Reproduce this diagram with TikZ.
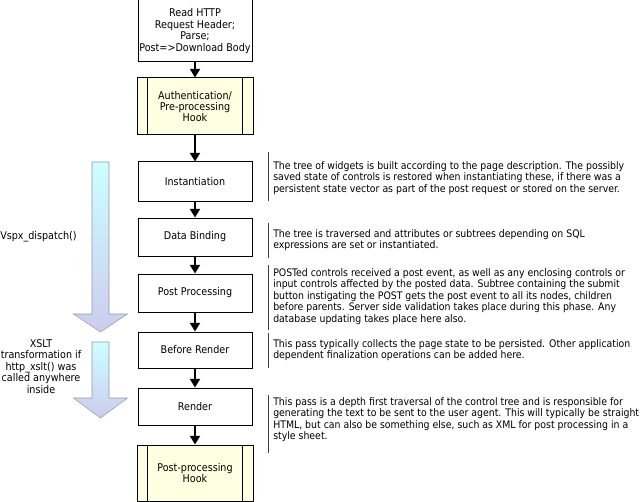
\documentclass[tikz,border=0pt]{standalone}
\usepackage{fontspec}
\setmainfont{DejaVu Sans Condensed}
\usetikzlibrary{arrows.meta}
\definecolor{hookfill}{RGB}{255,255,225}
\definecolor{arrtop}{RGB}{204,255,255}
\definecolor{arrbot}{RGB}{204,204,238}
\definecolor{arredge}{RGB}{150,150,170}
\begin{document}
\begin{tikzpicture}[x=0.75pt,y=-0.75pt,
  every node/.style={font=\fontsize{8}{8.6}\selectfont},
  stepbox/.style={draw=black,line width=0.75pt,fill=white,minimum width=85.5pt,align=center,inner sep=1pt},
  hookbox/.style={stepbox,fill=hookfill,minimum width=87pt},
  flow/.style={line width=1.5pt,-{Triangle[width=7.5pt,length=6.5pt]}},
  desc/.style={anchor=north west,align=left,inner sep=0pt,font=\fontsize{7.8}{8.6}\selectfont},
  bar/.style={line width=0.75pt,draw=black!75},
  bigarrow/.style={top color=arrtop,bottom color=arrbot,draw=arredge,line width=0.4pt}]
\useasboundingbox (0,0) rectangle (641,502);
% left gradient arrows
\shade[bigarrow] (92,162) -- (109,162) -- (109,314) -- (127.5,314) -- (100.5,332) -- (73.5,314) -- (92,314) -- cycle;
\shade[bigarrow] (92,342) -- (109,342) -- (109,398) -- (127.5,398) -- (100.5,418) -- (73.5,398) -- (92,398) -- cycle;
% boxes
\node[stepbox,minimum height=46.5pt] (read) at (195,31) {Read HTTP\\Request Header;\\Parse;\\Post=>Download Body};
\node[hookbox,minimum height=42.75pt] (auth) at (195,106.5) {Authentication/\\Pre-processing\\Hook};
\node[stepbox,minimum height=29.25pt] (inst) at (195,181.5) {Instantiation};
\node[stepbox,minimum height=28.5pt] (db) at (195,237) {Data Binding};
\node[stepbox,minimum height=28.5pt] (pp) at (195,293) {Post Processing};
\node[stepbox,minimum height=27pt] (br) at (195,350) {Before Render};
\node[stepbox,minimum height=27.75pt] (ren) at (195,406.5) {Render};
\node[hookbox,minimum height=42pt] (post) at (195,473) {Post-processing\\Hook};
\foreach \n in {auth,post}{
  \draw[line width=0.75pt] ([xshift=8.25pt]\n.north west) -- ([xshift=8.25pt]\n.south west);
  \draw[line width=0.75pt] ([xshift=-8.25pt]\n.north east) -- ([xshift=-8.25pt]\n.south east);
}
% connectors
\draw[flow] (read) -- (auth);
\draw[flow] (auth) -- (inst);
\draw[flow] (inst) -- (db);
\draw[flow] (db) -- (pp);
\draw[flow] (pp) -- (br);
\draw[flow] (br) -- (ren);
\draw[flow] (ren) -- (post);
% left labels
\node[anchor=west,inner sep=0pt] (vspx) at (0,237) {Vspx\_dispatch()};
\node[anchor=north,align=center,inner sep=0pt] (xslt) at (41,339) {XSLT\\transformation if\\http\_xslt() was\\called anywhere\\inside};
% description bars
\draw[bar] (268,152) -- (268,201);
\draw[bar] (268,223) -- (268,258);
\draw[bar] (268,265) -- (268,330);
\draw[bar] (268,333) -- (268,368);
\draw[bar] (268,395) -- (268,453);
% descriptions
\node[desc] (d1) at (273,161) {The tree of widgets is built according to the page description. The possibly\\saved state of controls is restored when instantiating these, if there was a\\persistent state vector as part of the post request or stored on the server.};
\node[desc] (d2) at (273,229) {The tree is traversed and attributes or subtrees depending on SQL\\expressions are set or instantiated.};
\node[desc] (d3) at (273,268) {POSTed controls received a post event, as well as any enclosing controls or\\input controls affected by the posted data. Subtree containing the submit\\button instigating the POST gets the post event to all its nodes, children\\before parents. Server side validation takes place during this phase. Any\\database updating takes place here also.};
\node[desc] (d4) at (273,339) {This pass typically collects the page state to be persisted. Other application\\dependent finalization operations can be added here.};
\node[desc] (d5) at (273,397) {This pass is a depth first traversal of the control tree and is responsible for\\generating the text to be sent to the user agent. This will typically be straight\\HTML, but can also be something else, such as XML for post processing in a\\style sheet.};
\end{tikzpicture}
\end{document}
